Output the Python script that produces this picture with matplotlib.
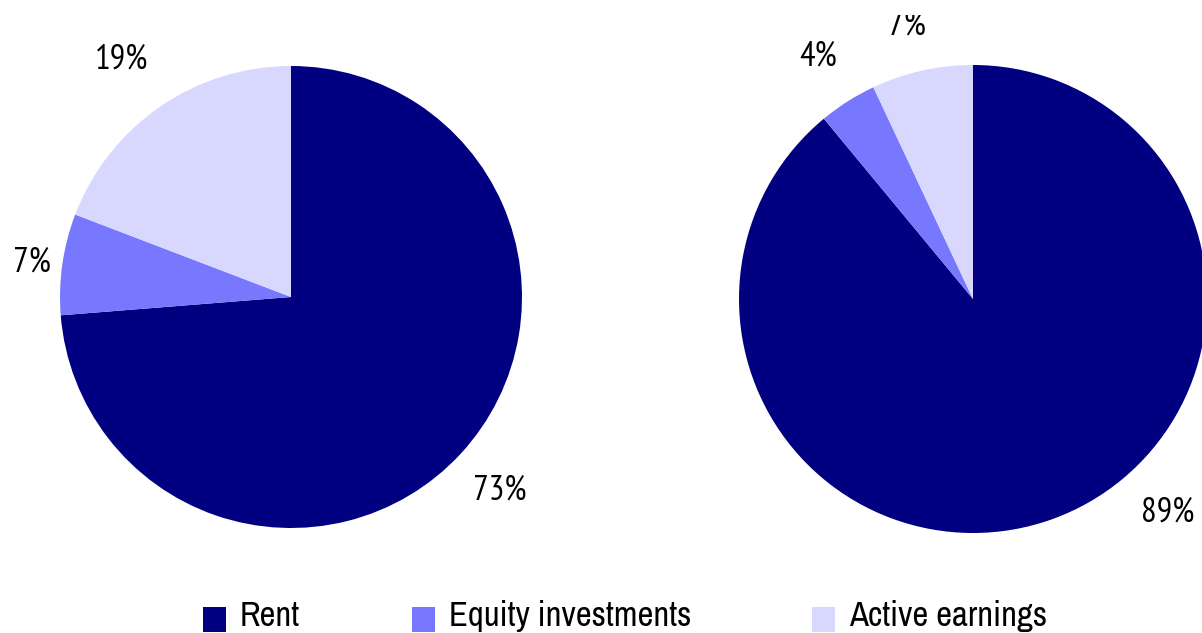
import matplotlib
matplotlib.use("Agg")
import matplotlib.pyplot as plt
from matplotlib.patches import Rectangle

W, H = 1202, 633

# income shares, two groups
categories = ["Rent", "Equity investments", "Active earnings"]
left_values = [73, 7, 19]
right_values = [89, 4, 7]
colors = ["#000080", "#7878FF", "#D8D8FF"]

label_font = ["PT Sans Narrow", "DejaVu Sans"]
legend_font = ["Archivo Narrow", "DejaVu Sans"]

fig = plt.figure(figsize=(W / 100, H / 100), dpi=100)
ax = fig.add_axes([0, 0, 1, 1])

# pie centres / radii in pixel units (y measured from the top)
left_c, left_r = (291, 297), 231
right_c, right_r = (973, 299), 234

wedges, _ = ax.pie(left_values, colors=colors, startangle=90, counterclock=False,
                   center=(left_c[0], H - left_c[1]), radius=left_r,
                   wedgeprops=dict(linewidth=0))
ax.pie(right_values, colors=colors, startangle=90, counterclock=False,
       center=(right_c[0], H - right_c[1]), radius=right_r,
       wedgeprops=dict(linewidth=0))

ax.set_xlim(0, W)
ax.set_ylim(0, H)
ax.set_aspect("equal")
ax.axis("off")

# percent labels (baseline positions, pixels from top)
left_label_pos = [(500, 500), (32, 272), (122, 69)]
right_label_pos = [(1168, 522), (818, 66), (907, 35)]
clip = Rectangle((0, 0), W, H - 15, transform=ax.transData, visible=False)
ax.add_patch(clip)
for vals, pos in ((left_values, left_label_pos), (right_values, right_label_pos)):
    for v, (x, y) in zip(vals, pos):
        t = ax.text(x, H - y, f"{v}%", ha="center", va="baseline", fontsize=25,
                    family=label_font, color="#000000", clip_on=True)
        t.set_clip_path(clip)

# legend row along the bottom edge
key_x = [203, 412, 812]
key_w, key_h, key_top = 23, 25, 607
for cat, col, x in zip(categories, colors, key_x):
    ax.add_patch(Rectangle((x, H - key_top - key_h), key_w, key_h,
                           facecolor=col, edgecolor="none"))
    ax.text(x + key_w + 14, H - 626, cat, ha="left", va="baseline",
            fontsize=25, family=legend_font, color="#000000")

fig.savefig("out.png", dpi=100)
